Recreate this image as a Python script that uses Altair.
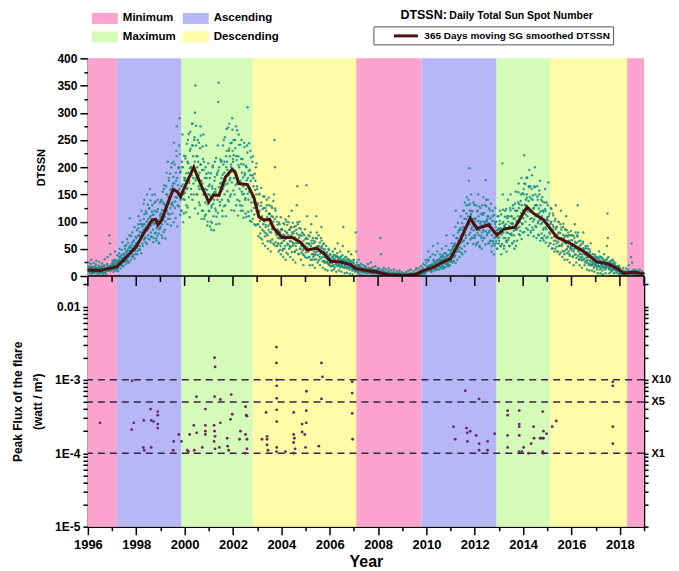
import altair as alt
import pandas as pd

FONT = "Liberation Sans"

# ---------------- data ----------------
phase_names = ["Minimum", "Ascending", "Maximum", "Descending", "Minimum",
               "Ascending", "Maximum", "Descending", "Minimum"]
phase_start = [1996.0, 1997.2, 1999.87, 2002.82, 2007.1, 2009.8, 2012.9, 2015.12, 2018.3]
phase_end = [1997.2, 1999.87, 2002.82, 2007.1, 2009.8, 2012.9, 2015.12, 2018.3, 2019.0]
phase_domain = ["Minimum", "Maximum", "Ascending", "Descending"]
phase_colors = ["#FBA3CE", "#D5FBB8", "#B7B7F7", "#FFFBA6"]

smooth_year = [1996.0, 1996.5, 1996.9, 1997.2, 1997.6, 1998.0, 1998.3, 1998.66, 1998.8, 1998.9,
               1999.05, 1999.35, 1999.53, 1999.7, 1999.83, 2000.1, 2000.38, 2000.65, 2001.0, 2001.2,
               2001.42, 2001.69, 2001.97, 2002.1, 2002.24, 2002.6, 2002.86, 2003.07, 2003.27, 2003.52,
               2003.68, 2004.03, 2004.45, 2004.79, 2005.06, 2005.47, 2005.75, 2006.03, 2006.44, 2006.86,
               2007.06, 2007.4, 2007.9, 2008.5, 2008.84, 2009.0, 2009.5, 2009.6, 2010.0, 2010.23,
               2010.57, 2011.0, 2011.4, 2011.81, 2012.09, 2012.57, 2012.92, 2013.2, 2013.67, 2014.16,
               2014.43, 2014.85, 2015.4, 2015.95, 2016.5, 2017.05, 2017.46, 2017.88, 2018.15, 2018.6,
               2018.98]
smooth_val = [11, 10, 14, 17, 35, 54, 78, 103, 104, 94,
              103, 139, 159, 155, 146, 173, 200, 170, 136, 149,
              148, 182, 196, 190, 170, 168, 145, 109, 103, 104,
              88, 71, 71, 62, 48, 51, 42, 27, 26, 21,
              14, 11, 8, 2, 2, 1, 3, 4, 12, 15,
              23, 32, 66, 106, 87, 94, 75, 86, 90, 127,
              115, 103, 71, 60, 45, 26, 23, 14, 5, 7,
              4]

# daily sunspot numbers, read as two interleaved weekly samples per year (a and b)
dtssn_1996 = [12, 18, 25, 9, 5, 14, 22, 30, 11, 4, 8, 16, 24, 13, 6, 0, 10, 21, 28, 15, 7, 3, 12, 19, 26, 10,
              5, 0, 9, 17, 23, 12, 6, 2, 11, 20, 31, 14, 8, 3, 13, 22, 35, 16, 9, 15, 75, 60, 40, 18, 12, 22]
dtssn_1997 = [20, 28, 12, 8, 15, 30, 45, 22, 10, 18, 26, 38, 15, 9, 24, 35, 50, 28, 14, 20, 33, 48, 62, 30, 18, 26,
              40, 55, 35, 22, 30, 45, 68, 40, 25, 35, 52, 75, 106, 45, 30, 42, 58, 80, 50, 35, 48, 66, 90, 55, 40, 60]
dtssn_1998 = [70, 52, 40, 62, 88, 110, 75, 55, 48, 72, 95, 120, 80, 60, 55, 85, 105, 140, 95, 70, 62, 90, 115, 150, 100, 75,
              68, 95, 125, 160, 110, 80, 72, 100, 130, 112, 85, 70, 95, 120, 150, 105, 80, 65, 90, 118, 140, 100, 78, 60, 88, 112]
dtssn_1999 = [90, 115, 140, 95, 70, 110, 135, 160, 120, 85, 100, 130, 165, 190, 130, 95, 115, 145, 175, 140, 105, 125, 160, 200, 150, 115,
              135, 170, 210, 245, 170, 125, 145, 190, 230, 275, 180, 130, 150, 200, 240, 290, 190, 140, 120, 165, 210, 260, 200, 150, 115, 180]
dtssn_2000 = [140, 180, 220, 175, 130, 160, 210, 250, 190, 145, 175, 230, 265, 200, 150, 185, 240, 280, 220, 170, 200, 255, 300, 350, 240, 180,
              150, 200, 250, 210, 165, 135, 190, 235, 275, 205, 160, 120, 170, 215, 260, 195, 150, 110, 160, 200, 240, 180, 140, 100, 150, 190]
dtssn_2001 = [120, 150, 180, 140, 100, 85, 130, 165, 200, 150, 110, 140, 175, 210, 160, 120, 95, 150, 190, 240, 320, 355, 200, 150, 130, 170,
              210, 180, 140, 110, 160, 205, 250, 190, 150, 130, 175, 220, 270, 210, 170, 140, 185, 230, 280, 220, 180, 150, 200, 245, 290, 230]
dtssn_2002 = [210, 250, 180, 150, 190, 235, 275, 220, 170, 140, 180, 220, 260, 200, 160, 130, 175, 215, 250, 190, 150, 120, 165, 205, 245, 185,
              140, 115, 160, 200, 240, 310, 180, 140, 110, 155, 195, 230, 175, 135, 100, 145, 185, 220, 165, 125, 95, 140, 175, 200, 150, 120]
dtssn_2003 = [160, 130, 95, 115, 150, 120, 90, 70, 105, 135, 110, 85, 60, 95, 125, 100, 80, 55, 90, 120, 140, 105, 75, 50, 85, 115,
              130, 95, 65, 45, 80, 110, 125, 90, 60, 100, 150, 250, 200, 120, 80, 55, 75, 100, 85, 60, 45, 70, 95, 80, 55, 40]
dtssn_2004 = [60, 85, 70, 50, 35, 65, 95, 75, 55, 30, 70, 100, 80, 60, 40, 75, 110, 85, 55, 35, 65, 90, 120, 80, 55, 30,
              60, 90, 70, 45, 25, 55, 85, 130, 165, 95, 60, 40, 70, 100, 75, 50, 30, 55, 80, 60, 40, 20, 50, 75, 55, 35]
dtssn_2005 = [50, 70, 167, 110, 60, 45, 75, 60, 35, 20, 50, 80, 95, 60, 30, 20, 40, 65, 50, 30, 15, 40, 70, 110, 80, 45,
              25, 50, 75, 55, 35, 20, 45, 70, 90, 55, 35, 15, 40, 60, 45, 25, 12, 35, 55, 40, 25, 10, 30, 50, 35, 20]
dtssn_2006 = [25, 40, 30, 18, 10, 28, 45, 35, 20, 12, 30, 50, 38, 22, 8, 25, 42, 60, 35, 20, 10, 28, 45, 32, 18, 8,
              22, 38, 55, 90, 30, 15, 5, 20, 35, 28, 15, 6, 18, 32, 45, 25, 12, 4, 15, 28, 40, 22, 10, 3, 12, 25]
dtssn_2007 = [30, 15, 8, 20, 80, 45, 25, 10, 5, 18, 30, 20, 10, 3, 12, 22, 15, 8, 2, 10, 20, 14, 7, 0, 8, 18,
              12, 5, 0, 10, 22, 15, 7, 0, 6, 14, 25, 12, 5, 0, 8, 16, 10, 4, 0, 9, 18, 11, 5, 0, 7, 13]
dtssn_2008 = [8, 15, 10, 3, 0, 70, 40, 12, 6, 0, 4, 10, 15, 8, 2, 0, 5, 12, 7, 0, 0, 3, 9, 14, 6, 0,
              0, 4, 10, 5, 0, 0, 2, 7, 12, 4, 0, 0, 0, 5, 9, 3, 0, 0, 2, 6, 10, 4, 0, 0, 3, 7]
dtssn_2009 = [0, 0, 2, 5, 0, 0, 0, 3, 8, 0, 0, 0, 4, 10, 2, 0, 0, 6, 12, 3, 0, 0, 0, 5, 9, 2,
              0, 0, 4, 11, 15, 5, 0, 2, 8, 14, 6, 0, 3, 10, 18, 8, 2, 5, 15, 22, 10, 4, 8, 20, 30, 12]
dtssn_2010 = [25, 15, 10, 30, 45, 28, 18, 12, 35, 20, 12, 8, 22, 40, 55, 30, 18, 10, 25, 38, 20, 12, 28, 45, 60, 30,
              18, 12, 25, 40, 22, 14, 30, 50, 35, 20, 14, 28, 42, 25, 16, 32, 55, 75, 38, 22, 18, 30, 48, 28, 20, 35]
dtssn_2011 = [30, 45, 60, 40, 25, 50, 75, 55, 35, 60, 90, 120, 70, 45, 30, 55, 80, 65, 45, 35, 60, 85, 110, 70, 50, 40,
              65, 90, 120, 80, 55, 45, 75, 105, 130, 90, 60, 95, 140, 175, 198, 120, 80, 110, 150, 120, 90, 70, 105, 135, 95, 75]
dtssn_2012 = [70, 100, 130, 90, 60, 85, 120, 150, 110, 75, 55, 90, 125, 100, 70, 50, 80, 115, 145, 100, 70, 95, 130, 176, 140, 100,
              75, 105, 140, 110, 80, 60, 90, 120, 95, 65, 45, 75, 110, 85, 60, 40, 70, 100, 125, 90, 65, 50, 80, 110, 85, 60]
dtssn_2013 = [65, 95, 120, 85, 55, 40, 80, 207, 150, 100, 70, 55, 90, 120, 95, 65, 45, 80, 110, 140, 100, 70, 55, 90, 125, 150,
              110, 75, 60, 95, 130, 105, 75, 50, 85, 120, 155, 120, 85, 65, 100, 135, 170, 125, 90, 75, 110, 150, 180, 130, 95, 80]
dtssn_2014 = [120, 160, 222, 170, 130, 100, 140, 180, 150, 110, 85, 125, 165, 195, 145, 105, 80, 120, 160, 185, 140, 100, 85, 125, 165, 200,
              150, 110, 90, 130, 165, 140, 100, 75, 115, 150, 175, 130, 95, 70, 110, 145, 120, 85, 65, 100, 135, 160, 120, 90, 70, 105]
dtssn_2015 = [95, 130, 172, 110, 80, 60, 95, 125, 100, 70, 50, 85, 115, 90, 65, 45, 75, 105, 130, 90, 60, 45, 70, 100, 80, 55,
              40, 70, 95, 120, 85, 55, 35, 65, 90, 70, 45, 30, 60, 85, 110, 75, 50, 30, 55, 80, 65, 40, 25, 50, 75, 55]
dtssn_2016 = [50, 75, 55, 35, 20, 45, 70, 95, 60, 40, 25, 50, 75, 130, 80, 45, 30, 20, 40, 65, 50, 30, 15, 35, 60, 80,
              50, 30, 20, 40, 55, 40, 25, 12, 30, 50, 35, 20, 10, 28, 45, 60, 35, 20, 10, 25, 40, 30, 15, 8, 22, 35]
dtssn_2017 = [20, 35, 25, 12, 5, 18, 32, 45, 25, 12, 5, 20, 35, 22, 10, 3, 15, 28, 40, 25, 12, 5, 18, 30, 55, 115,
              70, 35, 15, 5, 12, 25, 18, 8, 0, 10, 22, 30, 15, 5, 0, 12, 24, 16, 6, 0, 8, 18, 12, 4, 0, 10]
dtssn_2018 = [5, 12, 8, 0, 0, 4, 10, 15, 6, 0, 0, 3, 9, 14, 5, 0, 0, 6, 12, 20, 8, 0, 0, 4, 35, 60,
              25, 10, 2, 0, 5, 12, 8, 0, 0, 3, 10, 6, 0, 0, 2, 8, 12, 5, 0, 0, 4, 9, 3, 0, 0, 5]

dtssn_1996b = [10, 14, 8, 13, 16, 11, 8, 14, 17, 11, 7, 13, 16, 10, 12, 17, 8, 14, 11, 9, 15, 13, 7, 11, 17, 13,
               9, 15, 7, 12, 17, 10, 9, 13, 18, 12, 6, 14, 15, 11, 14, 20, 10, 17, 13, 11, 18, 15, 9, 12, 19, 15]
dtssn_1997b = [17, 24, 13, 21, 27, 18, 14, 23, 29, 19, 12, 22, 26, 24, 30, 42, 21, 36, 27, 23, 38, 32, 19, 26, 41, 33,
               36, 50, 27, 44, 57, 38, 29, 48, 61, 40, 25, 46, 55, 42, 52, 73, 36, 62, 47, 39, 65, 55, 32, 46, 72, 57]
dtssn_1998b = [60, 84, 46, 74, 95, 63, 49, 81, 102, 67, 42, 77, 91, 76, 95, 133, 67, 114, 86, 71, 119, 100, 59, 84, 131, 105,
               88, 124, 67, 108, 139, 93, 72, 118, 149, 98, 62, 113, 134, 78, 98, 137, 69, 118, 88, 74, 123, 103, 61, 86, 135, 108]
dtssn_1999b = [98, 138, 75, 121, 155, 104, 81, 132, 167, 109, 69, 127, 150, 120, 150, 210, 105, 180, 135, 113, 188, 158, 93, 132, 207, 165,
               129, 182, 99, 160, 205, 137, 106, 175, 220, 144, 91, 167, 198, 128, 160, 224, 112, 192, 144, 120, 200, 168, 99, 141, 221, 176]
dtssn_2000b = [153, 216, 117, 189, 243, 162, 126, 207, 261, 171, 108, 198, 234, 160, 200, 280, 140, 240, 180, 150, 250, 210, 124, 176, 276, 220,
               150, 220, 115, 185, 245, 160, 130, 205, 258, 175, 105, 195, 238, 120, 150, 210, 105, 180, 135, 113, 188, 158, 93, 132, 207, 165]
dtssn_2001b = [119, 168, 91, 147, 189, 126, 98, 161, 203, 133, 84, 154, 182, 124, 155, 217, 109, 186, 140, 116, 194, 163, 96, 136, 214, 171,
               156, 212, 120, 186, 240, 165, 128, 210, 255, 168, 110, 200, 230, 156, 195, 273, 137, 234, 176, 146, 244, 205, 121, 172, 269, 215]
dtssn_2002b = [157, 222, 120, 194, 250, 167, 130, 213, 268, 176, 111, 204, 241, 138, 172, 241, 120, 206, 155, 129, 215, 181, 107, 151, 237, 189,
               143, 202, 109, 176, 227, 151, 118, 193, 244, 160, 101, 185, 218, 120, 150, 210, 105, 180, 135, 113, 188, 158, 93, 132, 207, 165]
dtssn_2003b = [95, 134, 73, 118, 151, 101, 78, 129, 162, 106, 67, 123, 146, 83, 104, 146, 73, 125, 94, 78, 130, 109, 64, 92, 144, 114,
               81, 114, 62, 100, 128, 86, 67, 109, 138, 90, 57, 105, 124, 62, 78, 109, 55, 94, 70, 59, 98, 82, 48, 69, 108, 86]
dtssn_2004b = [61, 86, 47, 76, 97, 65, 50, 83, 104, 68, 43, 79, 94, 57, 71, 99, 50, 85, 64, 53, 89, 75, 44, 62, 98, 78,
               58, 82, 44, 71, 92, 61, 48, 78, 99, 65, 41, 75, 88, 50, 62, 87, 43, 74, 56, 47, 78, 65, 38, 55, 86, 68]
dtssn_2005b = [43, 60, 33, 53, 68, 45, 35, 58, 73, 48, 30, 55, 65, 40, 50, 70, 35, 60, 45, 38, 63, 53, 31, 44, 69, 55,
               38, 54, 29, 47, 61, 41, 32, 52, 65, 43, 27, 50, 59, 28, 35, 49, 25, 42, 32, 26, 44, 37, 22, 31, 48, 39]
dtssn_2006b = [23, 32, 18, 28, 36, 24, 19, 31, 39, 26, 16, 30, 35, 21, 26, 36, 18, 31, 23, 20, 33, 27, 16, 23, 36, 29,
               20, 29, 16, 25, 32, 22, 17, 28, 35, 23, 14, 26, 31, 17, 21, 29, 15, 25, 19, 16, 26, 22, 13, 18, 29, 23]
dtssn_2007b = [12, 17, 9, 15, 19, 13, 10, 16, 20, 13, 8, 15, 18, 9, 11, 15, 8, 13, 10, 8, 14, 12, 7, 10, 15, 12,
               8, 11, 6, 9, 12, 8, 6, 10, 13, 9, 5, 10, 12, 6, 8, 11, 6, 10, 7, 6, 10, 8, 5, 7, 11, 9]
dtssn_2008b = [4, 6, 3, 0, 7, 5, 4, 6, 7, 0, 3, 6, 7, 2, 3, 4, 0, 4, 3, 2, 4, 0, 2, 3, 4, 3,
               2, 0, 1, 2, 3, 0, 1, 2, 3, 2, 0, 2, 3, 2, 0, 3, 1, 2, 0, 2, 3, 2, 1, 0, 3, 2]
dtssn_2009b = [0, 1, 0, 1, 2, 1, 0, 1, 2, 1, 0, 1, 2, 2, 0, 3, 1, 2, 0, 2, 3, 2, 1, 0, 3, 2,
               3, 5, 3, 4, 5, 4, 3, 5, 6, 4, 2, 4, 5, 6, 8, 11, 6, 10, 7, 6, 10, 8, 5, 7, 11, 9]
dtssn_2010b = [12, 17, 9, 15, 19, 13, 10, 16, 20, 13, 8, 15, 18, 16, 20, 28, 14, 24, 18, 15, 25, 21, 12, 18, 28, 22,
               22, 31, 17, 27, 35, 23, 18, 30, 38, 25, 16, 29, 34, 24, 30, 42, 21, 36, 27, 23, 38, 32, 19, 26, 41, 33]
dtssn_2011b = [34, 48, 26, 42, 54, 36, 28, 46, 58, 38, 24, 44, 52, 56, 70, 98, 49, 84, 63, 53, 88, 74, 43, 62, 97, 77,
               85, 120, 65, 105, 135, 90, 70, 115, 145, 95, 60, 110, 130, 76, 95, 133, 67, 114, 86, 71, 119, 100, 59, 84, 131, 105]
dtssn_2012b = [75, 106, 57, 92, 119, 79, 62, 101, 128, 84, 53, 97, 114, 74, 93, 130, 65, 112, 84, 70, 116, 98, 58, 82, 128, 102,
               78, 110, 60, 97, 124, 83, 64, 106, 133, 87, 55, 101, 120, 64, 80, 112, 56, 96, 72, 60, 100, 84, 50, 70, 110, 88]
dtssn_2013b = [71, 101, 55, 88, 113, 76, 59, 97, 122, 80, 50, 92, 109, 70, 88, 123, 62, 106, 79, 66, 110, 92, 55, 77, 121, 97,
               78, 110, 60, 97, 124, 83, 64, 106, 133, 87, 55, 101, 120, 88, 110, 154, 77, 132, 99, 83, 138, 116, 68, 97, 152, 121]
dtssn_2014b = [106, 150, 81, 131, 169, 113, 88, 144, 181, 119, 75, 138, 163, 94, 118, 165, 83, 142, 106, 89, 148, 124, 73, 104, 163, 130,
               92, 130, 70, 113, 146, 97, 76, 124, 157, 103, 65, 119, 140, 78, 98, 137, 69, 118, 88, 74, 123, 103, 61, 86, 135, 108]
dtssn_2015b = [72, 102, 55, 89, 115, 77, 60, 98, 123, 81, 51, 94, 111, 58, 72, 101, 50, 86, 65, 54, 90, 76, 45, 63, 99, 79,
               56, 79, 43, 69, 89, 59, 46, 76, 96, 63, 40, 73, 86, 48, 60, 84, 42, 72, 54, 45, 75, 63, 37, 53, 83, 66]
dtssn_2016b = [47, 66, 36, 58, 74, 50, 39, 63, 80, 52, 33, 61, 72, 37, 46, 64, 32, 55, 41, 35, 58, 48, 29, 40, 63, 51,
               32, 46, 25, 40, 51, 34, 27, 44, 55, 36, 23, 42, 49, 22, 28, 39, 20, 34, 25, 21, 35, 29, 17, 25, 39, 31]
dtssn_2017b = [21, 30, 16, 26, 34, 23, 18, 29, 36, 24, 15, 28, 33, 18, 23, 32, 16, 28, 21, 17, 29, 24, 14, 20, 32, 25,
               17, 24, 13, 21, 27, 18, 14, 23, 29, 19, 12, 22, 26, 11, 14, 20, 10, 17, 13, 11, 18, 15, 9, 12, 19, 15]
dtssn_2018b = [5, 7, 4, 6, 8, 5, 4, 7, 9, 6, 4, 7, 8, 5, 6, 8, 4, 7, 5, 5, 8, 6, 4, 5, 8, 7,
               5, 7, 4, 6, 8, 5, 4, 7, 9, 6, 4, 7, 8, 3, 4, 6, 3, 5, 4, 3, 5, 4, 2, 4, 6, 4]

dtssn_years = [1996, 1997, 1998, 1999, 2000, 2001, 2002, 2003, 2004, 2005, 2006, 2007,
               2008, 2009, 2010, 2011, 2012, 2013, 2014, 2015, 2016, 2017, 2018]
dtssn_lists_a = [dtssn_1996, dtssn_1997, dtssn_1998, dtssn_1999, dtssn_2000, dtssn_2001,
                 dtssn_2002, dtssn_2003, dtssn_2004, dtssn_2005, dtssn_2006, dtssn_2007,
                 dtssn_2008, dtssn_2009, dtssn_2010, dtssn_2011, dtssn_2012, dtssn_2013,
                 dtssn_2014, dtssn_2015, dtssn_2016, dtssn_2017, dtssn_2018]
dtssn_lists_b = [dtssn_1996b, dtssn_1997b, dtssn_1998b, dtssn_1999b, dtssn_2000b, dtssn_2001b,
                 dtssn_2002b, dtssn_2003b, dtssn_2004b, dtssn_2005b, dtssn_2006b, dtssn_2007b,
                 dtssn_2008b, dtssn_2009b, dtssn_2010b, dtssn_2011b, dtssn_2012b, dtssn_2013b,
                 dtssn_2014b, dtssn_2015b, dtssn_2016b, dtssn_2017b, dtssn_2018b]

flare_year = [1996.50, 1997.83, 1997.81, 1997.90, 1998.31, 1998.29, 1998.33, 1998.59, 1998.62, 1998.62,
              1998.72, 1998.89, 1998.89, 1998.89, 1998.89, 1999.55, 1999.53, 1999.76, 1999.87,
              2000.11, 2000.16, 2000.21, 2000.38, 2000.40, 2000.49, 2000.50, 2000.73, 2000.86, 2000.86,
              2000.86, 2000.86, 2001.24, 2001.26, 2001.24, 2001.22, 2001.24, 2001.26, 2001.22, 2001.26,
              2001.48, 2001.48, 2001.44, 2001.76, 2001.78, 2001.82, 2001.93, 2001.97, 2001.90,
              2002.31, 2002.27, 2002.52, 2002.55, 2002.58, 2002.52, 2002.58, 2002.58, 2002.50,
              2003.20, 2003.37, 2003.41, 2003.41, 2003.41, 2003.45,
              2003.80, 2003.80, 2003.81, 2003.81, 2003.81, 2003.81, 2003.81, 2003.81, 2003.80,
              2004.17, 2004.51, 2004.51, 2004.54, 2004.51, 2004.57, 2004.51,
              2004.86, 2004.86, 2004.97, 2005.00, 2005.04, 2005.03, 2005.03,
              2005.55, 2005.66, 2005.70, 2005.66,
              2006.93, 2006.93, 2006.93, 2006.95,
              2011.12, 2011.19, 2011.61, 2011.66, 2011.69, 2011.81, 2011.70, 2012.06, 2012.18, 2012.18,
              2012.18, 2012.53, 2012.53, 2012.82,
              2013.36, 2013.36, 2013.36, 2013.36, 2013.84, 2013.84, 2013.84, 2013.84, 2013.84, 2013.95, 2014.02,
              2014.22, 2014.33, 2014.43, 2014.45, 2014.70, 2014.78, 2014.84, 2014.81, 2014.84, 2014.81, 2014.84,
              2014.97, 2015.20, 2015.37,
              2017.71, 2017.71, 2017.71, 2017.71]
flare_flux = [2.6e-4, 9.7e-4, 2.1e-4, 2.6e-4, 2.8e-4, 1.2e-4, 1.1e-4, 4.0e-4, 2.8e-4, 1.2e-4,
              2.7e-4, 3.7e-4, 3.3e-4, 2.5e-4, 2.2e-4, 1.45e-4, 1.1e-4, 1.8e-4, 1.45e-4,
              1.1e-4, 1.05e-4, 1.8e-4, 2.4e-4, 1.1e-4, 5.9e-4, 1.9e-4, 1.2e-4, 4.0e-4, 2.4e-4,
              2.0e-4, 1.8e-4, 2.0e-3, 1.5e-3, 5.9e-4, 2.4e-4, 2.0e-4, 1.7e-4, 1.45e-4, 1.15e-4,
              5.4e-4, 2.6e-4, 1.2e-4, 1.6e-4, 1.25e-4, 1.1e-4, 6.3e-4, 3.4e-4, 2.9e-4,
              2.0e-4, 1.55e-4, 4.3e-4, 3.3e-4, 3.2e-4, 1.8e-4, 1.55e-4, 1.15e-4, 1.0e-4,
              1.55e-4, 3.6e-4, 1.7e-4, 1.55e-4, 1.3e-4, 1.1e-4,
              2.8e-3, 1.7e-3, 1.0e-3, 8.3e-4, 5.6e-4, 3.9e-4, 2.7e-4, 1.2e-4, 1.05e-4,
              1.05e-4, 3.6e-4, 1.8e-4, 1.6e-4, 1.4e-4, 1.15e-4, 1.0e-4,
              1.95e-4, 2.5e-4, 1.8e-4, 1.2e-4, 7.0e-4, 3.8e-4, 2.6e-4,
              1.25e-4, 1.7e-3, 1.1e-3, 5.5e-4,
              9.4e-4, 6.6e-4, 3.5e-4, 1.55e-4,
              2.3e-4, 1.55e-4, 7.1e-4, 2.2e-4, 1.9e-4, 2.0e-4, 1.45e-4, 1.75e-4, 5.5e-4, 1.35e-4,
              1.1e-4, 1.45e-4, 1.1e-4, 1.85e-4,
              3.8e-4, 3.3e-4, 1.75e-4, 1.2e-4, 3.8e-4, 2.5e-4, 2.3e-4, 1.75e-4, 1.05e-4, 1.05e-4, 1.2e-4,
              1.0e-4, 1.35e-4, 2.3e-4, 1.6e-4, 1.6e-4, 1.6e-4, 1.6e-4, 3.7e-4, 2.0e-4, 1.05e-4, 1.0e-4,
              1.85e-4, 2.3e-4, 2.75e-4,
              9.4e-4, 8.3e-4, 2.3e-4, 1.35e-4]

flare_levels = [1e-3, 5e-4, 1e-4]
level_labels = ["X10", "X5", "X1"]

dtssn_ticks = [0, 50, 100, 150, 200, 250, 300, 350, 400]
dtssn_minor = [25, 75, 125, 175, 225, 275, 325, 375]
flux_major = [1e-5, 1e-4, 1e-3, 1e-2]
flux_minor = [2e-5, 3e-5, 4e-5, 5e-5, 6e-5, 7e-5, 8e-5, 9e-5,
              2e-4, 3e-4, 4e-4, 5e-4, 6e-4, 7e-4, 8e-4, 9e-4,
              2e-3, 3e-3, 4e-3, 5e-3, 6e-3, 7e-3, 8e-3, 9e-3, 2e-2]
even_years = list(range(1996, 2019, 2))
odd_years = list(range(1997, 2020, 2))

# ---------------- tables ----------------
bands_df = pd.DataFrame({"phase": phase_names, "start": phase_start, "end": phase_end})
smooth_df = pd.DataFrame({"t": smooth_year, "s": smooth_val,
                          "series": ["365 Days moving SG smoothed DTSSN"] * len(smooth_year)})
rows = []
for yr, va, vb in zip(dtssn_years, dtssn_lists_a, dtssn_lists_b):
    for i, v in enumerate(va):
        rows.append({"t": yr + (i + 0.25) / len(va), "v": v})
    for i, v in enumerate(vb):
        rows.append({"t": yr + (i + 0.75) / len(vb), "v": v})
daily_df = pd.DataFrame(rows)
flare_df = pd.DataFrame({"t": flare_year, "flux": flare_flux})
levels_df = pd.DataFrame({"level": flare_levels, "label": level_labels})

W, H1, H2 = 557, 218, 251
xscale = alt.Scale(domain=[1996, 2019], nice=False, zero=False)
yscale_top = alt.Scale(domain=[0, 400], nice=False)
yscale_log = alt.Scale(type="log", domain=[1e-5, 0.026], nice=False)
phase_scale = alt.Scale(domain=phase_domain, range=phase_colors)

# ---------------- top panel ----------------
bands_top = alt.Chart(bands_df).mark_rect().encode(
    x=alt.X("start:Q", scale=xscale,
            axis=alt.Axis(labels=False, ticks=False, domain=True, title=None, grid=False)),
    x2="end:Q",
    color=alt.Color("phase:N", scale=phase_scale,
                    legend=alt.Legend(title=None, orient="none", legendX=10.5, legendY=-47,
                                      columns=2, symbolType="M-2,-0.85H2V0.85H-2Z",
                                      symbolSize=169, symbolStrokeWidth=0, symbolOpacity=1,
                                      labelFont=FONT, labelFontWeight="bold", labelFontSize=11.5,
                                      labelColor="black", labelOffset=11.5, columnPadding=6,
                                      rowPadding=6, padding=0)),
)

scatter = alt.Chart(daily_df).mark_circle(size=6, opacity=0.85, color="#168a88").encode(
    x=alt.X("t:Q", scale=xscale, axis=None),
    y=alt.Y("v:Q", scale=yscale_top,
            axis=alt.Axis(values=dtssn_ticks, title="DTSSN", tickSize=8, labelFontSize=12,
                          titleFontSize=11, labelPadding=3, titlePadding=10, grid=False, orient="left")),
)

line = alt.Chart(smooth_df).mark_line(strokeWidth=3).encode(
    x=alt.X("t:Q", scale=xscale, axis=None),
    y=alt.Y("s:Q", scale=yscale_top,
            axis=alt.Axis(values=dtssn_minor, labels=False, tickSize=4, domain=False,
                          title=None, grid=False, orient="left")),
    stroke=alt.Stroke("series:N", scale=alt.Scale(range=["#4f1010"]),
                      legend=alt.Legend(title=None, orient="none", legendX=286, legendY=-32,
                                        symbolType="M-2,0H2", symbolSize=144, symbolStrokeWidth=3,
                                        strokeColor="#555555", padding=2, symbolOffset=23,
                                        labelFont=FONT, labelFontWeight="bold", labelFontSize=10,
                                        labelColor="black", labelOffset=11, labelLimit=400)),
)

title_a = alt.Chart(pd.DataFrame({"t": ["DTSSN:"]})).mark_text(
    align="left", baseline="alphabetic", font=FONT, fontSize=12.5, fontWeight="bold", color="black"
).encode(text="t:N", x=alt.value(313), y=alt.value(-39))
title_b = alt.Chart(pd.DataFrame({"t": ["Daily Total Sun Spot Number"]})).mark_text(
    align="left", baseline="alphabetic", font=FONT, fontSize=10.5, fontWeight="bold", color="black"
).encode(text="t:N", x=alt.value(362), y=alt.value(-39))

top = alt.layer(bands_top, scatter, line, title_a, title_b).resolve_axis(
    x="independent", y="independent").properties(width=W, height=H1)

# ---------------- bottom panel ----------------
bands_bot = alt.Chart(bands_df).mark_rect().encode(
    x=alt.X("start:Q", scale=xscale, axis=None),
    x2="end:Q",
    color=alt.Color("phase:N", scale=phase_scale, legend=None),
)

dashed = alt.Chart(levels_df).mark_rule(strokeDash=[7, 5], strokeWidth=1.5, color="#33264d").encode(
    y=alt.Y("level:Q", scale=yscale_log,
            axis=alt.Axis(orient="right", values=flux_minor + flux_major + [5e-4],
                          labelExpr="datum.value == 0.001 ? 'X10' : datum.value == 0.0005 ? 'X5' : datum.value == 0.0001 ? 'X1' : ''",
                          labelOverlap=False, tickSize=4, title=None, grid=False,
                          labelFontSize=11, labelPadding=3)),
)

flares = alt.Chart(flare_df).mark_circle(size=8, opacity=1, color="#6b2668").encode(
    x=alt.X("t:Q", scale=xscale,
            axis=alt.Axis(values=even_years, format="d", tickSize=8, labelFontSize=13,
                          labelPadding=4, title="Year", titleFontSize=16, titlePadding=2,
                          grid=False, labelOverlap=False, labelFlush=False, orient="bottom")),
    y=alt.Y("flux:Q", scale=yscale_log,
            axis=alt.Axis(orient="left", values=flux_major + flux_minor,
                          labelExpr="datum.value == 0.01 ? '0.01' : datum.value == 0.001 ? '1E-3' : datum.value == 0.0001 ? '1E-4' : datum.value == 0.00001 ? '1E-5' : ''",
                          labelOverlap=False, tickSize=5, labelFontSize=12, labelPadding=3,
                          labelFlush=False,
                          title=["Peak Flux of the flare", "(watt / m²)"], titleFontSize=12,
                          titleLineHeight=20, titlePadding=10, grid=False)),
)

tick_top_major = alt.Chart(pd.DataFrame({"yr": even_years + [2019]})).mark_rule(
    color="black", strokeWidth=1.5).encode(
    x=alt.X("yr:Q", scale=xscale, axis=None), y=alt.value(0), y2=alt.value(10))
tick_top_minor = alt.Chart(pd.DataFrame({"yr": odd_years[:-1]})).mark_rule(
    color="black", strokeWidth=1.5).encode(
    x=alt.X("yr:Q", scale=xscale,
            axis=alt.Axis(orient="bottom", values=odd_years, labels=False, tickSize=4,
                          domain=False, title=None, grid=False)),
    y=alt.value(0), y2=alt.value(6))
top_line = alt.Chart(pd.DataFrame({"a": [0]})).mark_rule(color="black", strokeWidth=1.5).encode(
    x=alt.value(0), x2=alt.value(W), y=alt.value(0))

bottom = alt.layer(bands_bot, dashed, flares, tick_top_major, tick_top_minor, top_line).resolve_axis(
    x="independent", y="independent").properties(width=W, height=H2)

chart = alt.vconcat(top, bottom, spacing=0, bounds="flush").configure_view(
    strokeWidth=0
).configure_axis(
    labelFont=FONT, titleFont=FONT, labelFontWeight="bold", titleFontWeight="bold",
    labelColor="black", titleColor="black", domainColor="black", tickColor="black",
    domainWidth=1.5, tickWidth=1.5
).properties(padding={"left": 3, "top": 1, "right": 0, "bottom": 0})

chart.save("out.html", embed_options={"renderer": "svg", "actions": False})
